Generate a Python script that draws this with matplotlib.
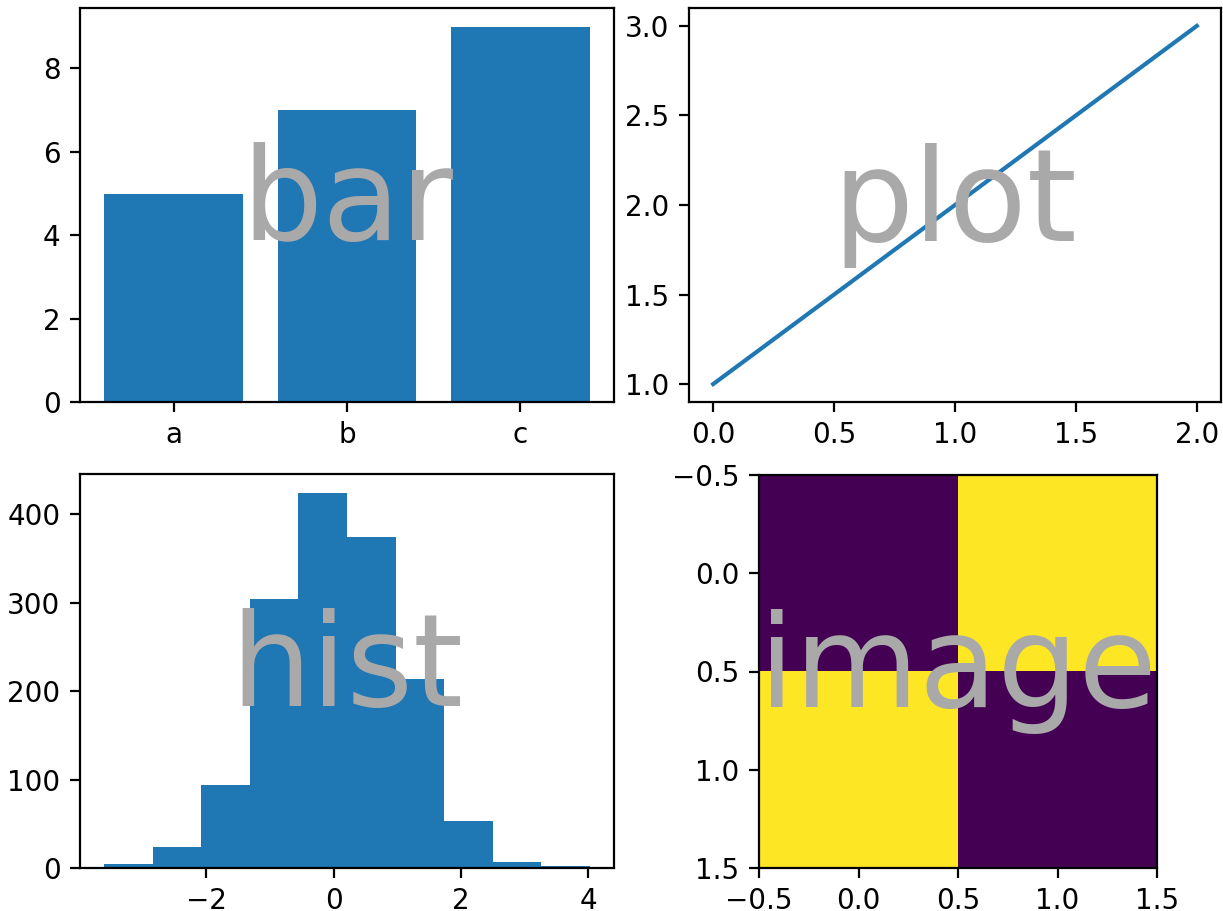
import numpy as np
import matplotlib
matplotlib.use("Agg")
import matplotlib.pyplot as plt

# Data
bar_categories = ["a", "b", "c"]
bar_values = [5, 7, 9]

line_x = [0, 1, 2]
line_y = [1, 2, 3]

hist_edges = [-3.60, -2.838, -2.076, -1.314, -0.552, 0.21, 0.972, 1.734, 2.496, 3.258, 4.02]
hist_counts = [5, 24, 94, 304, 424, 374, 213, 53, 7, 2]

image_data = [[0, 1], [1, 0]]

labels = ["bar", "plot", "hist", "image"]

W, H = 1223, 911
fig = plt.figure(figsize=(W / 200, H / 200), dpi=200)


def px_axes(x0, x1, y0, y1):
    return fig.add_axes([x0 / W, 1 - y1 / H, (x1 - x0) / W, (y1 - y0) / H])


ax1 = px_axes(80, 614, 8, 402)
ax2 = px_axes(689, 1221, 8, 402)
ax3 = px_axes(80, 614, 474, 868)
ax4 = px_axes(759, 1157, 475, 868)

ax1.bar(bar_categories, bar_values)
ax2.plot(line_x, line_y)
edges = np.array(hist_edges)
centers = (edges[:-1] + edges[1:]) / 2
ax3.hist(centers, bins=edges, weights=hist_counts)
ax4.imshow(np.array(image_data), aspect="auto")

for ax, name in zip([ax1, ax2, ax3, ax4], labels):
    ax.text(0.5, 0.5, name, transform=ax.transAxes, ha="center", va="center",
            fontsize=46, color="darkgrey")

fig.savefig("out.png", dpi=200)
